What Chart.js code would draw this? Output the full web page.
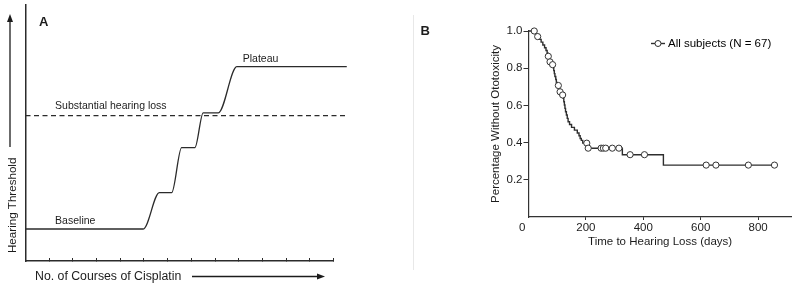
<!DOCTYPE html>
<html>
<head>
<meta charset="utf-8">
<script src="https://cdn.jsdelivr.net/npm/chart.js@4.4.1/dist/chart.umd.min.js"></script>
<style>
  body { margin: 0; background: #fff; }
  .panel { position: absolute; top: 0; width: 400px; height: 288px; }
  #wrapA { left: 0; }
  #wrapB { left: 400px; }
  .divider { position: absolute; left: 413px; top: 15px; height: 255px; border-left: 1px solid #e8e8e8; }
</style>
</head>
<body>
<div class="panel" id="wrapA"><canvas id="chartA" width="400" height="288"></canvas></div>
<div class="divider"></div>
<div class="panel" id="wrapB"><canvas id="chartB" width="400" height="288"></canvas></div>
<script>
// Panel A - schematic: hearing threshold vs courses of cisplatin
const courses = [0, 4.97, 5.65, 6.17, 6.59, 7.15, 7.5, 8.14, 8.92, 13.56];
const threshold = [12.5, 12.5, 26.7, 26.7, 44.3, 44.3, 57.9, 57.9, 75.9, 75.9];
const lossCourses = [0, 13.49];
const lossLevel = [56.8, 56.8];

// Panel B - Kaplan-Meier, all subjects (N = 67)
const eventDays = [0, 24, 29, 38, 44, 50, 56, 61, 65, 68, 72, 74, 79, 86, 88, 90, 92, 95, 97, 100,
  106, 109, 116, 121, 123, 125, 127, 129, 132, 135, 138, 143, 150, 160, 170, 176, 180, 184, 189,
  206, 327, 470, 857];
const survival = [1.0, 0.985, 0.970, 0.955, 0.940, 0.925, 0.910, 0.895, 0.880, 0.864, 0.849, 0.834, 0.819,
  0.803, 0.787, 0.771, 0.755, 0.739, 0.723, 0.707, 0.690, 0.673, 0.656, 0.638, 0.620, 0.602, 0.584,
  0.566, 0.548, 0.530, 0.512, 0.497, 0.482, 0.467, 0.452, 0.437, 0.422, 0.412, 0.397, 0.370, 0.335,
  0.279, 0.279];
const censorDays = [20, 32, 69, 75, 84, 104, 110, 119, 203, 208, 253, 261, 269, 292, 315, 354, 404, 619, 653, 766, 857];
const censorSurv = [1.0, 0.970, 0.864, 0.834, 0.819, 0.707, 0.673, 0.656, 0.397, 0.370, 0.370, 0.370, 0.370,
  0.370, 0.370, 0.335, 0.335, 0.279, 0.279, 0.279, 0.279];
const dayTicks = [0, 200, 400, 600, 800];
const survTicks = [0.2, 0.4, 0.6, 0.8, 1.0];

const family = "'Liberation Sans', Arial, Helvetica, sans-serif";
const ink = '#1c1c1c';
Chart.defaults.font.family = family;
Chart.defaults.color = ink;

const toPoints = (xs, ys) => xs.map((v, i) => ({ x: v, y: ys[i] }));

function arrow(ctx, x1, y1, x2, y2) {
  const a = Math.atan2(y2 - y1, x2 - x1), len = 8, hw = 3;
  const bx = x2 - len * Math.cos(a), by = y2 - len * Math.sin(a);
  ctx.lineWidth = 1.3;
  ctx.beginPath(); ctx.moveTo(x1, y1); ctx.lineTo(bx, by); ctx.stroke();
  ctx.beginPath();
  ctx.moveTo(x2, y2);
  ctx.lineTo(bx - hw * Math.sin(a), by + hw * Math.cos(a));
  ctx.lineTo(bx + hw * Math.sin(a), by - hw * Math.cos(a));
  ctx.closePath(); ctx.fill();
}

// text + arrows around the schematic
const panelAText = {
  id: 'panelAText',
  afterDraw(chart) {
    const { ctx, scales: { x, y } } = chart;
    ctx.save();
    ctx.fillStyle = ink; ctx.strokeStyle = ink;
    ctx.textBaseline = 'alphabetic';
    ctx.font = 'bold 13px ' + family;
    ctx.fillText('A', 39, 26);
    ctx.font = '10.5px ' + family;
    [['Plateau', 9.17, 77.8], ['Substantial hearing loss', 1.25, 59.2], ['Baseline', 1.25, 14.3]]
      .forEach(([t, vx, vy]) => ctx.fillText(t, x.getPixelForValue(vx), y.getPixelForValue(vy)));
    ctx.save();
    ctx.translate(15.5, 253); ctx.rotate(-Math.PI / 2);
    ctx.font = '11.6px ' + family;
    ctx.fillText('Hearing Threshold', 0, 0);
    ctx.restore();
    arrow(ctx, 10, 147, 10, 14);
    ctx.font = '12.3px ' + family;
    ctx.fillText('No. of Courses of Cisplatin', 35, 279.5);
    arrow(ctx, 192, 276.5, 325, 276.5);
    ctx.restore();
  }
};

new Chart(document.getElementById('chartA'), {
  type: 'line',
  data: {
    datasets: [
      {
        data: toPoints(courses, threshold),
        borderColor: '#2b2b2b', borderWidth: 1.3,
        cubicInterpolationMode: 'monotone',
        pointRadius: 0, clip: false
      },
      {
        data: toPoints(lossCourses, lossLevel),
        borderColor: '#2b2b2b', borderWidth: 1.3,
        borderDash: [5, 3.5],
        pointRadius: 0, clip: false
      }
    ]
  },
  options: {
    responsive: false, animation: false, events: [],
    layout: { padding: { left: 0, top: 5, right: 66.5, bottom: 0 } },
    plugins: { legend: { display: false }, tooltip: { enabled: false } },
    scales: {
      x: {
        type: 'linear', min: 0, max: 13,
        ticks: { display: false, stepSize: 1 },
        grid: { display: true, drawOnChartArea: false, tickLength: -3, color: '#2b2b2b', lineWidth: 1 },
        border: { color: '#2b2b2b', width: 1.5 },
        afterFit: s => { s.height = 27; }
      },
      y: {
        type: 'linear', min: 0, max: 100,
        ticks: { display: false },
        grid: { display: false },
        border: { color: '#2b2b2b', width: 1.5 },
        afterFit: s => { s.width = 25.5; }
      }
    }
  },
  plugins: [panelAText]
});

// legend icon: line with open circle
const legendIcon = document.createElement('canvas');
legendIcon.width = 14; legendIcon.height = 9;
(function () {
  const c = legendIcon.getContext('2d');
  c.strokeStyle = '#2e2e2e'; c.lineWidth = 1.4;
  c.beginPath(); c.moveTo(0, 4.5); c.lineTo(14, 4.5); c.stroke();
  c.fillStyle = '#fff'; c.lineWidth = 1;
  c.beginPath(); c.arc(7, 4.5, 3, 0, Math.PI * 2); c.fill(); c.stroke();
})();

const panelBLabel = {
  id: 'panelBLabel',
  // move the in-plot legend to the upper right of the plot area
  afterLayout(chart) {
    const lg = chart.legend;
    if (!lg) return;
    const w = lg.width, h = lg.height;
    lg.left = 243.75; lg.right = 243.75 + w;
    lg.top = 27.75; lg.bottom = 27.75 + h;
  },
  afterDraw(chart) {
    const { ctx } = chart;
    ctx.save();
    ctx.fillStyle = ink;
    ctx.font = 'bold 13px ' + family;
    ctx.fillText('B', 20.5, 35);
    ctx.restore();
  }
};

new Chart(document.getElementById('chartB'), {
  type: 'line',
  data: {
    datasets: [
      {
        label: 'Censored',
        data: toPoints(censorDays, censorSurv),
        showLine: false,
        pointRadius: 3.1, pointBorderWidth: 1,
        pointBackgroundColor: '#fff', pointBorderColor: '#333',
        clip: false
      },
      {
        label: 'All subjects (N = 67)',
        data: toPoints(eventDays, survival),
        stepped: true,
        borderColor: '#2e2e2e', borderWidth: 1.4,
        pointRadius: 0, clip: false
      }
    ]
  },
  options: {
    responsive: false, animation: false, events: [],
    layout: { padding: { left: 0, top: 31, right: 8.3, bottom: 0 } },
    plugins: {
      tooltip: { enabled: false },
      legend: {
        position: 'chartArea', align: 'start',
        labels: {
          usePointStyle: true, pointStyleWidth: 8.5, padding: 10,
          font: { size: 11.5 }, color: ink,
          generateLabels: () => [{
            text: 'All subjects (N = 67)', pointStyle: legendIcon,
            fillStyle: '#fff', strokeStyle: '#333', lineWidth: 0,
            hidden: false, datasetIndex: 1
          }]
        }
      }
    },
    scales: {
      x: {
        type: 'linear', min: 0, max: 917,
        afterBuildTicks: s => { s.ticks = dayTicks.map(v => ({ value: v })); },
        ticks: {
          font: { size: 11.5 }, padding: 1, maxRotation: 0, autoSkip: false,
          callback: v => (v === 0 ? '0\u2007\u2007' : String(v))
        },
        grid: {
          display: true, drawOnChartArea: false, tickLength: 3, lineWidth: 1,
          color: c => (c.tick && c.tick.value === 0 ? 'rgba(0,0,0,0)' : '#333')
        },
        border: { color: '#333', width: 1.2 },
        title: {
          display: true, text: 'Time to Hearing Loss (days)',
          font: { size: 11.5 }, padding: { top: 0, bottom: 39.4 }
        },
        afterFit: s => { s.height = 71; }
      },
      y: {
        type: 'linear', min: 0, max: 1,
        afterBuildTicks: s => { s.ticks = survTicks.map(v => ({ value: v })); },
        ticks: { font: { size: 11.5 }, padding: 1, callback: v => v.toFixed(1) },
        grid: { display: true, drawOnChartArea: false, tickLength: 5, lineWidth: 1, color: '#333' },
        border: { color: '#333', width: 1.2 },
        title: {
          display: true, text: 'Percentage Without Ototoxicity',
          font: { size: 11.5 }, padding: { top: 89.1, bottom: 0 }
        },
        afterFit: s => { s.width = 128.5; }
      }
    }
  },
  plugins: [panelBLabel]
});
</script>
</body>
</html>
